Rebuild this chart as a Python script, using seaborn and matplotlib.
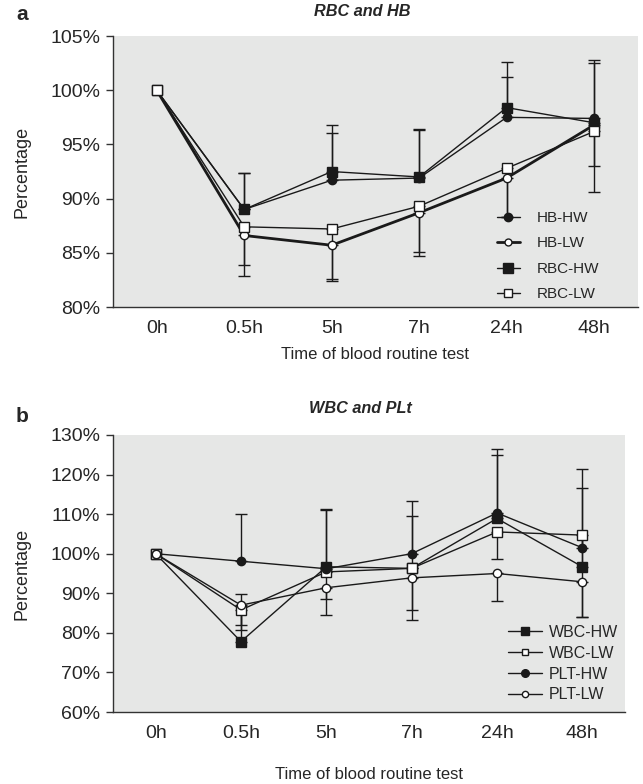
import numpy as np
import pandas as pd
import matplotlib
matplotlib.use("Agg")
import matplotlib.pyplot as plt
import seaborn as sns
from matplotlib.lines import Line2D
from matplotlib.ticker import FixedLocator, FuncFormatter

# time points
times = ['0h', '0.5h', '5h', '7h', '24h', '48h']

# panel a: RBC and HB (% of baseline)
hb_hw = [100, 89.0, 91.7, 91.9, 97.5, 97.4]
hb_lw = [100, 86.6, 85.7, 88.7, 91.9, 96.8]
rbc_hw = [100, 89.0, 92.5, 92.0, 98.4, 97.0]
rbc_lw = [100, 87.4, 87.2, 89.3, 92.8, 96.2]
# one-sided error bars (HW upward, LW downward)
hb_hw_err = [0, 3.4, 4.4, 4.4, 3.7, 5.4]
hb_lw_err = [0, 3.7, 3.3, 4.0, 3.6, 6.2]
rbc_hw_err = [0, 3.4, 4.3, 4.4, 4.2, 5.5]
rbc_lw_err = [0, 3.55, 4.6, 4.2, 4.5, 3.2]

# panel b: WBC and PLT (% of baseline)
wbc_hw = [100, 77.8, 96.7, 96.3, 108.9, 96.7]
wbc_lw = [100, 85.8, 95.4, 96.3, 105.5, 104.7]
plt_hw = [100, 98.1, 96.2, 100.0, 110.3, 101.5]
plt_lw = [100, 87.0, 91.4, 93.9, 95.0, 92.9]
wbc_hw_err = [0, 11.9, 14.7, 13.3, 16.1, 19.9]
wbc_lw_err = [0, 5.0, 6.8, 13.0, 6.8, 20.7]
plt_hw_err = [0, 11.9, 14.8, 13.2, 16.1, 19.9]
plt_lw_err = [0, 5.1, 6.8, 8.2, 7.0, 8.9]

sns.set_style("white")
plt.rcParams['font.family'] = ['Liberation Sans', 'DejaVu Sans']

fig = plt.figure(figsize=(6.43, 7.84), dpi=100)
ax1 = fig.add_axes([0.1757, 0.6084, 0.8163, 0.3456])
ax2 = fig.add_axes([0.1757, 0.0918, 0.7963, 0.3534])

x = np.arange(len(times))


def draw(ax, name, vals, err, up, marker, filled, lw, lsize):
    df = pd.DataFrame({'t': x, 'v': vals})
    sns.lineplot(data=df, x='t', y='v', ax=ax, color='#1a1a1a', linewidth=lw,
                 marker=marker, markersize=6.5 if marker == 's' else 6,
                 markerfacecolor='#1a1a1a' if filled else 'white',
                 markeredgecolor='#1a1a1a', markeredgewidth=1, label=name,
                 zorder=3)
    e = np.array(err)
    yerr = [np.zeros_like(e), e] if up else [e, np.zeros_like(e)]
    ax.errorbar(x[1:], np.array(vals)[1:], yerr=[yerr[0][1:], yerr[1][1:]],
                fmt='none', ecolor='#1a1a1a', elinewidth=1, capsize=4,
                capthick=1, zorder=2)
    return Line2D([], [], color='#1a1a1a', linewidth=lw, marker=marker,
                  markersize=lsize,
                  markerfacecolor='#1a1a1a' if filled else 'white',
                  markeredgecolor='#1a1a1a', label=name)


h_a = [
    draw(ax1, 'HB-HW', hb_hw, hb_hw_err, True, 'o', True, 1, 6),
    draw(ax1, 'HB-LW', hb_lw, hb_lw_err, False, 'o', False, 2, 5),
    draw(ax1, 'RBC-HW', rbc_hw, rbc_hw_err, True, 's', True, 1, 6.5),
    draw(ax1, 'RBC-LW', rbc_lw, rbc_lw_err, False, 's', False, 1, 5.5),
]
h_b = [
    draw(ax2, 'WBC-HW', wbc_hw, wbc_hw_err, True, 's', True, 1, 5.5),
    draw(ax2, 'WBC-LW', wbc_lw, wbc_lw_err, False, 's', False, 1, 4.5),
    draw(ax2, 'PLT-HW', plt_hw, plt_hw_err, True, 'o', True, 1, 5.5),
    draw(ax2, 'PLT-LW', plt_lw, plt_lw_err, False, 'o', False, 1, 4.5),
]

pct = FuncFormatter(lambda v, p: f'{v:.0f}%')
for ax, ylim, step in [(ax1, (80, 105), 5), (ax2, (60, 130), 10)]:
    ax.set_facecolor('#e6e7e6')
    ax.set_xlim(-0.5, len(times) - 0.5)
    ax.set_ylim(*ylim)
    ax.set_yticks(np.arange(ylim[0], ylim[1] + 1, step))
    ax.yaxis.set_major_formatter(pct)
    ax.xaxis.set_major_locator(FixedLocator(np.arange(-0.5, len(times), 1)))
    ax.xaxis.set_minor_locator(FixedLocator(x))
    ax.set_xticklabels([])
    ax.set_xticklabels(times, minor=True)
    ax.tick_params(axis='x', which='major', direction='out', length=5,
                   width=1, color='#333333')
    ax.tick_params(axis='x', which='minor', length=0, pad=9, labelsize=14)
    ax.tick_params(axis='y', direction='out', length=5, width=1, pad=4,
                   color='#333333', labelsize=14, left=True)
    for s in ['top', 'right']:
        ax.spines[s].set_visible(False)
    for s in ['left', 'bottom']:
        ax.spines[s].set_color('#333333')
        ax.spines[s].set_linewidth(1)
    ax.set_xlabel('Time of blood routine test', fontsize=12, va='center')
    ax.set_ylabel('Percentage', fontsize=13, va='center')

ax1.xaxis.set_label_coords(0.5, (307 - 354) / 271)
ax2.xaxis.set_label_coords(0.5, (712 - 774) / 277)
ax1.yaxis.set_label_coords((22 - 113) / 525, 0.5)
ax2.yaxis.set_label_coords((22 - 113) / 512, 0.5)

ax1.legend(handles=h_a, loc='upper left', frameon=False, fontsize=11,
           handlelength=1.5, handletextpad=1.1, labelspacing=0.75,
           borderpad=0, borderaxespad=0,
           bbox_to_anchor=((497 - 113) / 525, (307 - 211) / 271))
ax2.legend(handles=h_b, loc='upper left', frameon=False, fontsize=11.5,
           handlelength=2.15, handletextpad=0.4, labelspacing=0.36,
           borderpad=0, borderaxespad=0,
           bbox_to_anchor=((508 - 113) / 512, (712 - 625) / 277))

fig.text(362 / 643, 1 - 12 / 784, 'RBC and HB', ha='center', va='center',
         fontsize=11.7, fontweight='bold', fontstyle='italic')
fig.text(360 / 643, 1 - 409 / 784, 'WBC and PLt', ha='center', va='center',
         fontsize=11.7, fontweight='bold', fontstyle='italic')
fig.text(22 / 643, 1 - 15 / 784, 'a', ha='center', va='center',
         fontsize=15, fontweight='bold')
fig.text(22 / 643, 1 - 416 / 784, 'b', ha='center', va='center',
         fontsize=15, fontweight='bold')

fig.savefig('out.png', dpi=100)
